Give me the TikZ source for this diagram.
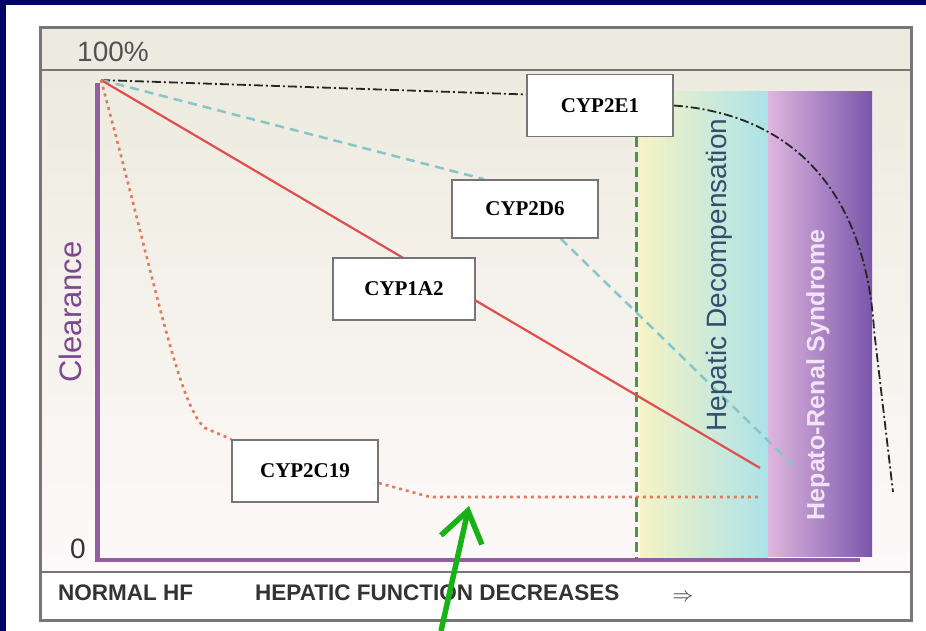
\documentclass[tikz,border=0pt]{standalone}
\usepackage{fontspec}
\setmainfont{Liberation Serif}
\setsansfont{Liberation Sans}
\usetikzlibrary{arrows.meta}

\definecolor{navy}{RGB}{4,4,104}
\definecolor{framegray}{RGB}{118,118,118}
\definecolor{beige}{RGB}{237,235,223}
\definecolor{paleplot}{RGB}{253,249,250}
\definecolor{axispurple}{RGB}{145,95,160}
\definecolor{clearpurple}{RGB}{125,72,142}
\definecolor{stagegreen}{RGB}{80,150,60}
\definecolor{d6cyan}{RGB}{135,198,200}
\definecolor{a2red}{RGB}{225,78,78}
\definecolor{c19orange}{RGB}{226,122,92}
\definecolor{zoneyellow}{RGB}{246,243,198}
\definecolor{zonecyan}{RGB}{172,226,232}
\definecolor{hrspink}{RGB}{222,182,222}
\definecolor{hrsviolet}{RGB}{122,86,172}
\definecolor{hdblue}{RGB}{48,78,110}
\definecolor{hrstext}{RGB}{242,228,246}
\definecolor{pointgreen}{RGB}{22,178,22}

\tikzset{
    cypbox/.style={rectangle, draw=framegray, fill=white, line width=1.6pt,
        minimum width=146pt, minimum height=62pt, inner sep=0pt,
        font=\fontsize{21}{21}\selectfont\bfseries},
    bandtext/.style={anchor=west, inner sep=0pt, text=black!80,
        font=\sffamily\bfseries\fontsize{22.5}{24}\selectfont},
    e1line/.style={draw=black!85, line width=1.8pt,
        dash pattern=on 9pt off 3pt on 2pt off 3pt},
    d6line/.style={draw=d6cyan, line width=2.5pt, dash pattern=on 9pt off 6pt},
    a2line/.style={draw=a2red, line width=2.2pt},
    c19line/.style={draw=c19orange, line width=2.6pt, dash pattern=on 3pt off 4pt},
    stageline/.style={draw=stagegreen, line width=3pt, dash pattern=on 10pt off 5pt},
    pointer/.style={draw=pointgreen, line width=5.5pt,
        -{Straight Barb[length=30pt, width=42pt]}}
}

\pgfdeclarelayer{bg}
\pgfsetlayers{bg,main}

\begin{document}
\begin{tikzpicture}
  [
    x = 1pt,
    y = -1pt,
  ]
  \useasboundingbox (0,0) rectangle (926,631);

  % boxes
  \node [cypbox] (e1) at (600,105.5) {CYP2E1};
  \node [cypbox, minimum height=58pt] (d6) at (525,209) {CYP2D6};
  \node [cypbox, minimum width=142pt] (a2) at (404,289) {CYP1A2};
  \node [cypbox] (c19) at (305,471) {CYP2C19};

  % labels
  \node [inner sep=0pt, text=black!68, font=\sffamily\fontsize{28}{30}\selectfont] (hundred) at (113,52) {100\%};
  \node [inner sep=0pt, text=black!80, font=\sffamily\fontsize{28}{30}\selectfont] (zero) at (78,549) {0};
  \node [rotate=90, inner sep=0pt, text=clearpurple, font=\sffamily\fontsize{31}{32}\selectfont] (clear) at (70,312) {Clearance};
  \node [rotate=90, inner sep=0pt, text=hdblue, font=\sffamily\fontsize{28}{30}\selectfont] (hd) at (719,275) {Hepatic Decompensation};
  \node [rotate=90, inner sep=0pt, text=hrstext, font=\sffamily\bfseries\fontsize{25}{27}\selectfont] (hrs) at (818,375) {Hepato-Renal Syndrome};
  \node [bandtext] (normal) at (58,593) {NORMAL HF};
  \node [bandtext] (decrease) at (255,593) {HEPATIC FUNCTION DECREASES};
  \node [inner sep=0pt, text=black!80, font=\fontsize{22}{22}\selectfont] (then) at (683,598) {$\Rightarrow$};

  \begin{pgfonlayer}{bg}
    % frame and panels
    \fill [navy] (0,0) rectangle (926,631);
    \fill [white] (6,5) rectangle (926,631);
    \fill [beige] (40,28) rectangle (911,70);
    \shade [top color=beige, bottom color=paleplot] (40,70) rectangle (911,572);
    \fill [white!97!beige] (40,572) rectangle (911,620);
    \shade [left color=zoneyellow, right color=zonecyan] (640,92) rectangle (768,558);
    \shade [left color=hrspink, right color=hrsviolet] (768,92) rectangle (872,556);
    \draw [framegray, line width=2pt] (40,70) -- (911,70) (40,572) -- (911,572);
    \draw [framegray, line width=3pt] (40,28) rectangle (911,620);

    % axes
    \draw [axispurple, line width=5pt] (97,83) -- (97,562);
    \draw [axispurple, line width=4pt] (95,560) -- (860,560);

    % stage line
    \coordinate (stagebot) at (636,558);
    \draw [stageline] (stagebot |- e1.south) -- (stagebot);

    % curves
    \coordinate (top) at (101,80);
    \coordinate (e1end) at (893,492);
    \coordinate (d6end) at (794,466);
    \coordinate (a2end) at (760,468);
    \coordinate (c19knee) at (430,497);
    \coordinate (c19end) at (760,497);
    \draw [e1line] (top) -- ([yshift=11pt]e1.west);
    \draw [e1line] (e1.east) .. controls (800,115) and (866,200) .. (874,330) -- (e1end);
    \draw [d6line] (top) -- ([xshift=33pt]d6.north west);
    \draw [d6line] ([xshift=-38pt]d6.south east) -- (d6end);
    \draw [a2line] (top) -- (a2end);
    \draw [c19line] (top) .. controls (155,280) and (178,405) .. (205,428) -- (c19.north west);
    \draw [c19line] ([yshift=-12pt]c19.east) -- (c19knee) -- (c19end);
  \end{pgfonlayer}

  % pointer
  \coordinate (tail) at (441,631);
  \coordinate (tip) at (469,506);
  \draw [pointer] (tail) -- (tip);
\end{tikzpicture}
\end{document}
